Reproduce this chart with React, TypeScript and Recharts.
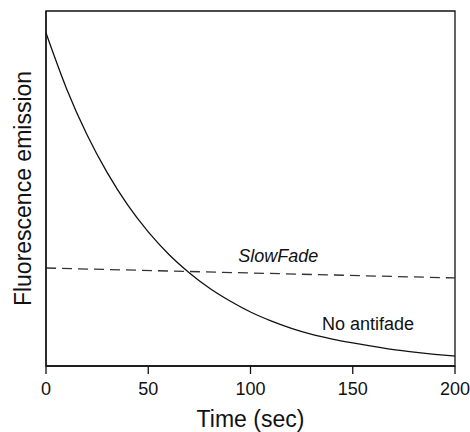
import React from 'react'
import {
  LineChart, Line, XAxis, YAxis, ReferenceDot, ReferenceArea
} from 'recharts'

// time points (sec) and relative emission
const times = [0, 10, 20, 30, 40, 50, 60, 70, 80, 90, 100, 110, 120, 130, 140, 150, 160, 170, 180, 190, 200]
const noAntifade = [93.8, 78.2, 65.2, 54.4, 45.3, 37.8, 31.5, 26.3, 21.9, 18.3, 15.2, 12.7, 10.6, 8.9, 7.6, 6.5, 5.5, 4.6, 3.9, 3.3, 2.8]

const slowFadeTimes = [0, 200]
const slowFade = [27.6, 24.8]

const xTicks = [0, 50, 100, 150, 200]

const noAntifadeData = times.map((t, i) => ({ t, v: noAntifade[i] }))
const slowFadeData = slowFadeTimes.map((t, i) => ({ t, v: slowFade[i] }))

const font = '"Liberation Sans", Arial, sans-serif'

const Note = ({ text, italic }: { text: string; italic?: boolean }) => (props: any) => (
  <text
    x={props.cx}
    y={props.cy}
    fontSize={18}
    fontFamily={font}
    fontStyle={italic ? 'italic' : 'normal'}
    fill="#111"
  >
    {text}
  </text>
)

export default function App() {
  return (
    <div style={{ position: 'absolute', left: 0, top: 0, background: '#fff' }}>
      <LineChart
        width={470}
        height={432}
        margin={{ top: 11, right: 15, left: 0, bottom: 0 }}
        style={{ fontFamily: font }}
      >
        <XAxis
          dataKey="t"
          type="number"
          domain={[0, 200]}
          ticks={xTicks}
          interval={0}
          height={66}
          tickSize={8}
          tickMargin={8}
          stroke="#111"
          strokeWidth={1.3}
          tick={{ fontSize: 18, fill: '#111' }}
          label={{ value: 'Time (sec)', position: 'insideBottom', offset: 5, fontSize: 23, fill: '#111' }}
        />
        <YAxis
          type="number"
          domain={[0, 100]}
          width={46}
          tick={false}
          tickLine={false}
          stroke="#111"
          strokeWidth={1.3}
          label={{ value: 'Fluorescence emission', angle: -90, position: 'center', fontSize: 23, fill: '#111' }}
        />
        {/* frame round the plot */}
        <ReferenceArea x1={0} x2={200} y1={0} y2={100} fill="none" stroke="#111" strokeWidth={1.3} />
        <Line
          data={noAntifadeData}
          dataKey="v"
          type="monotone"
          stroke="#111"
          strokeWidth={1.3}
          dot={false}
          isAnimationActive={false}
        />
        <Line
          data={slowFadeData}
          dataKey="v"
          type="linear"
          stroke="#333"
          strokeWidth={1.3}
          strokeDasharray="10 6"
          dot={false}
          isAnimationActive={false}
        />
        <ReferenceDot x={94} y={29.3} r={0} shape={Note({ text: 'SlowFade', italic: true })} />
        <ReferenceDot x={135} y={10.1} r={0} shape={Note({ text: 'No antifade' })} />
      </LineChart>
    </div>
  )
}
